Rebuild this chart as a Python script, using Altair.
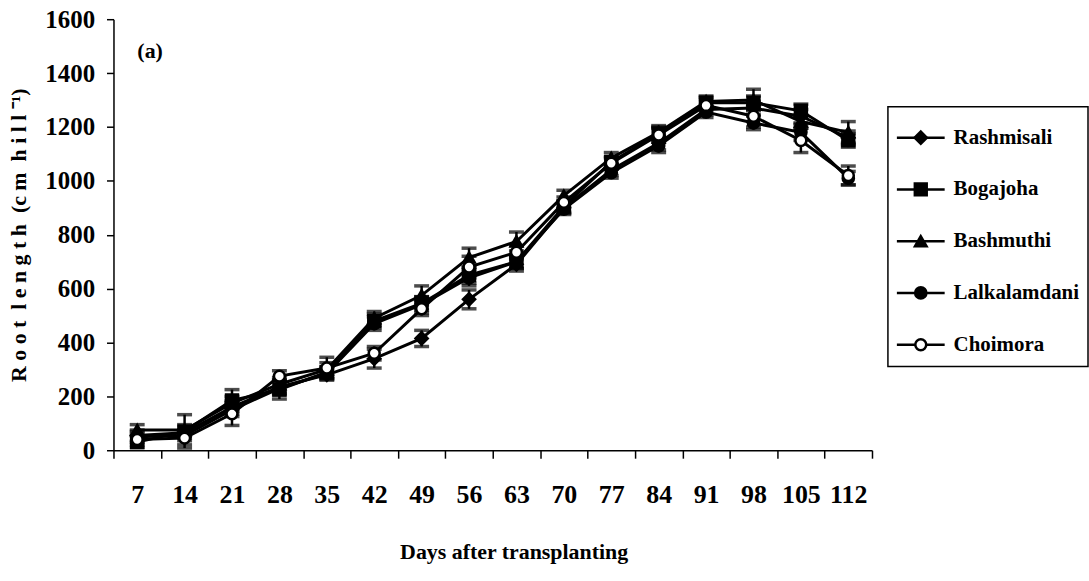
import altair as alt
import pandas as pd

days = [7, 14, 21, 28, 35, 42, 49, 56, 63, 70, 77, 84, 91, 98, 105, 112]
series = ["Rashmisali", "Bogajoha", "Bashmuthi", "Lalkalamdani", "Choimora"]

rashmisali = [55, 65, 160, 235, 280, 340, 415, 560, 690, 900, 1040, 1140, 1265, 1270, 1240, 1160]
bogajoha = [30, 70, 185, 225, 290, 480, 545, 650, 700, 905, 1070, 1175, 1290, 1290, 1260, 1150]
bashmuthi = [75, 75, 175, 245, 300, 490, 575, 715, 775, 945, 1085, 1180, 1295, 1300, 1220, 1180]
lalkalamdani = [50, 55, 150, 230, 285, 470, 540, 640, 700, 895, 1030, 1130, 1255, 1215, 1180, 1010]
choimora = [40, 45, 135, 275, 305, 360, 525, 680, 735, 920, 1065, 1170, 1280, 1240, 1150, 1020]

rashmisali_err = [20, 20, 25, 25, 20, 35, 30, 35, 25, 20, 20, 25, 20, 25, 25, 25]
bogajoha_err = [20, 62, 40, 35, 20, 25, 25, 30, 25, 20, 20, 25, 20, 25, 25, 25]
bashmuthi_err = [20, 20, 25, 25, 25, 25, 35, 35, 35, 20, 20, 25, 20, 40, 25, 40]
lalkalamdani_err = [20, 20, 25, 25, 20, 25, 30, 30, 25, 20, 20, 25, 20, 25, 30, 25]
choimora_err = [20, 25, 43, 20, 40, 25, 25, 40, 25, 20, 20, 25, 20, 40, 45, 35]

values = [rashmisali, bogajoha, bashmuthi, lalkalamdani, choimora]
errors = [rashmisali_err, bogajoha_err, bashmuthi_err, lalkalamdani_err, choimora_err]

rows = []
for name, vals, errs in zip(series, values, errors):
    for d, v, e in zip(days, vals, errs):
        rows.append({"day": str(d), "series": name, "value": v, "lo": max(v - e, 0), "hi": v + e})
df = pd.DataFrame(rows)
day_labels = [str(d) for d in days]

FONT = "Liberation Serif"

shape_scale = alt.Scale(domain=series, range=["diamond", "square", "triangle-up", "circle", "circle"])
fill_scale = alt.Scale(domain=series, range=["black", "black", "black", "black", "white"])
size_scale = alt.Scale(domain=series, range=[150, 120, 150, 45, 140])

x_enc = alt.X(
    "day:O",
    sort=day_labels,
    scale=alt.Scale(type="band", paddingInner=0, paddingOuter=0),
    axis=alt.Axis(
        title="Days after transplanting",
        labelAngle=0,
        tickBand="extent",
        labelFont=FONT, labelFontSize=26, labelFontWeight="bold", labelColor="black",
        titleFont=FONT, titleFontSize=22, titleFontWeight="bold", titleColor="black",
        titleX=402,
        labelPadding=24, titlePadding=34, tickSize=8, tickWidth=1.5, tickColor="black",
        domainColor="black", domainWidth=1.5,
    ),
)
y_enc = alt.Y(
    "value:Q",
    scale=alt.Scale(domain=[0, 1600]),
    axis=alt.Axis(
        title="R o o t\u2002l e n g t h\u2002(c m\u2002h i l l \u207b\u00b9)",
        values=list(range(0, 1601, 200)),
        format="d",
        grid=False,
        labelFont=FONT, labelFontSize=25, labelFontWeight="bold", labelColor="black",
        titleFont=FONT, titleFontSize=22, titleFontWeight="bold", titleColor="black",
        labelPadding=12, titlePadding=14, tickSize=7, tickWidth=1.5, tickColor="black",
        domainColor="black", domainWidth=1.5,
    ),
)

base = alt.Chart(df)
lines = base.mark_line(color="black", strokeWidth=3).encode(x=x_enc, y=y_enc, detail="series:N")
bars = base.mark_rule(color="black", strokeWidth=2.5).encode(x=x_enc, y="lo:Q", y2="hi:Q")
cap_hi = base.mark_tick(color="black", size=15, thickness=3.5).encode(x=x_enc, y="hi:Q")
cap_lo = base.mark_tick(color="black", size=15, thickness=3.5).encode(x=x_enc, y="lo:Q")
points = base.mark_point(filled=True, stroke="black", strokeWidth=2.5, opacity=1).encode(
    x=x_enc, y=y_enc,
    shape=alt.Shape("series:N", scale=shape_scale, legend=None),
    fill=alt.Fill("series:N", scale=fill_scale, legend=None),
    size=alt.Size("series:N", scale=size_scale, legend=None),
)
label_a = alt.Chart(pd.DataFrame({"t": ["(a)"]})).mark_text(
    font=FONT, fontSize=22, fontWeight="bold", align="left", baseline="middle", color="black"
).encode(text="t:N", x=alt.value(24), y=alt.value(32))

main = alt.layer(lines, bars, cap_hi, cap_lo, points, label_a).properties(width=762, height=433)

leg_df = pd.DataFrame({"series": series})
leg_y = alt.Y("series:N", sort=series, scale=alt.Scale(type="point", range=[31, 239], padding=0), axis=None)
leg_base = alt.Chart(leg_df)
leg_line = leg_base.mark_rule(color="black", strokeWidth=2.5).encode(x=alt.value(9), x2=alt.value(57), y=leg_y)
leg_pts = leg_base.mark_point(filled=True, stroke="black", strokeWidth=2.5, opacity=1).encode(
    x=alt.value(33), y=leg_y,
    shape=alt.Shape("series:N", scale=shape_scale, legend=None),
    fill=alt.Fill("series:N", scale=fill_scale, legend=None),
    size=alt.Size("series:N", scale=size_scale, legend=None),
)
leg_txt = leg_base.mark_text(
    font=FONT, fontSize=21, fontWeight="bold", align="left", baseline="middle", color="black"
).encode(x=alt.value(66), y=leg_y, text="series:N")
legend = alt.layer(leg_line, leg_pts, leg_txt).properties(
    width=201, height=261, view=alt.ViewBackground(stroke="black", strokeWidth=1.5)
)

spacer = alt.Chart(pd.DataFrame({"a": [0]})).mark_point(opacity=0).encode(
    x=alt.value(0), y=alt.value(0)
).properties(width=201, height=87)

chart = alt.hconcat(main, alt.vconcat(spacer, legend, spacing=0), spacing=12).properties(
    padding={"left": 8, "top": 6, "right": 0, "bottom": 0}
).configure_view(strokeWidth=0)

chart.save("out.html", embed_options={"renderer": "svg", "actions": False})
